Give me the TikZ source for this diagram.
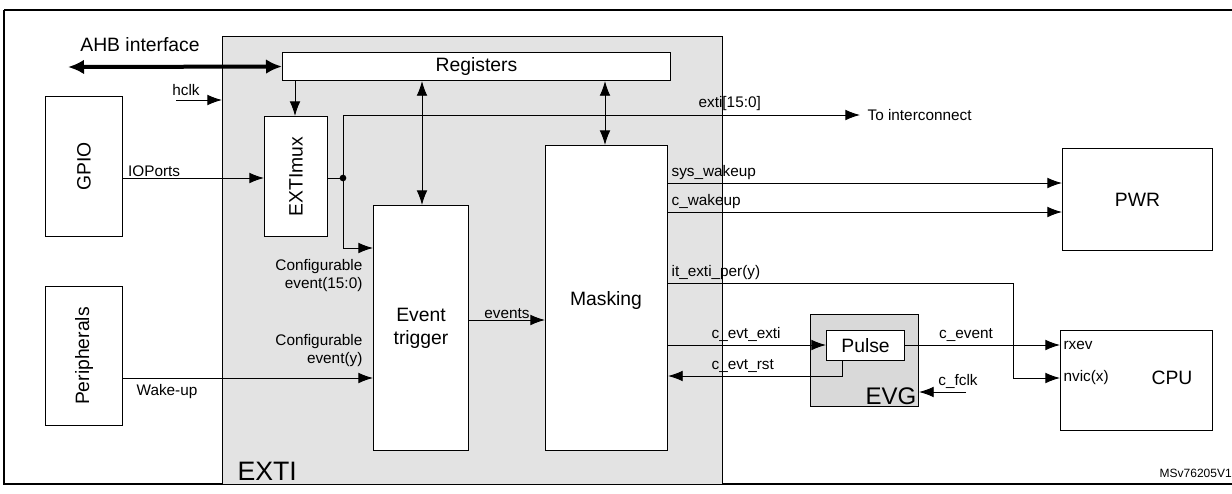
\documentclass[tikz,border=0pt]{standalone}
\usepackage{fontspec}
\setmainfont{Liberation Sans}
\usetikzlibrary{arrows.meta}
\begin{document}
\begin{tikzpicture}[x=0.75pt,y=-0.75pt,
  box/.style={draw,line width=0.8pt,fill=white},
  sig/.style={line width=0.7pt,-{Latex[length=11pt,width=8pt]}},
  lbl/.style={font=\fontsize{11.5}{13}\selectfont,inner sep=1pt},
  big/.style={font=\fontsize{14.5}{17}\selectfont,align=center}]
\useasboundingbox (0,0) rectangle (1232,493);
\draw[line width=1.2pt] (4,10) -- (1240,10) (4,10) -- (4,484) -- (1240,484);
\node[draw,line width=0.8pt,fill=gray!22,minimum width=500*0.75pt,minimum height=448*0.75pt,anchor=north west,inner sep=0] (exti) at (222,36) {};
\node[anchor=south west,font=\fontsize{20}{22}\selectfont,inner sep=1pt] at (236,482) {EXTI};
\node[box,minimum width=388*0.75pt,minimum height=28*0.75pt,anchor=north west,inner sep=0,big] (reg) at (282,52) {Registers};
\node[box,minimum width=77*0.75pt,minimum height=140*0.75pt,anchor=north west,inner sep=0] (gpio) at (45,96) {};
\node[big,rotate=90] at (gpio.center) {GPIO};
\node[box,minimum width=77*0.75pt,minimum height=139*0.75pt,anchor=north west,inner sep=0] (per) at (45,286) {};
\node[big,rotate=90] at (per.center) {Peripherals};
\node[box,minimum width=63*0.75pt,minimum height=120*0.75pt,anchor=north west,inner sep=0] (mux) at (264,116) {};
\node[big,rotate=90] at (mux.center) {EXTImux};
\node[box,minimum width=95*0.75pt,minimum height=245*0.75pt,anchor=north west,inner sep=0,big] (evt) at (373,205) {Event\\trigger};
\node[box,minimum width=122*0.75pt,minimum height=305*0.75pt,anchor=north west,inner sep=0] (mask) at (545,145) {};
\node[big] at (606,300) {Masking};
\node[box,minimum width=150*0.75pt,minimum height=102*0.75pt,anchor=north west,inner sep=0,big] (pwr) at (1062,148) {PWR};
\node[box,minimum width=152*0.75pt,minimum height=100*0.75pt,anchor=north west,inner sep=0] (cpu) at (1060,330) {};
\node[big] at (1172,378) {CPU};
\node[lbl,anchor=west] at (1062,345) {rxev};
\node[lbl,anchor=west] at (1062,378) {nvic(x)};
\node[draw,line width=0.8pt,fill=gray!30,minimum width=108*0.75pt,minimum height=92*0.75pt,anchor=north west,inner sep=0] (evg) at (810,314) {};
\node[anchor=south east,font=\fontsize{18}{20}\selectfont,inner sep=1pt] at (918,406) {EVG};
\node[box,minimum width=78*0.75pt,minimum height=30*0.75pt,anchor=north west,inner sep=0,big] (pulse) at (826,330) {Pulse};
% AHB
\draw[line width=3pt,{Latex[length=12pt,width=11pt]}-{Latex[length=12pt,width=11pt]}] (68,67) -- (reg.west);
\node[big,anchor=south] at (140,56) {AHB interface};
\node[lbl,anchor=south] at (186,97) {hclk};
\coordinate (h0) at (176,100);
\draw[sig] (h0) -- (exti.west|-h0);
% registers links
\draw[sig] (reg.south-|295,0) -- (mux.north-|295,0);
\draw[line width=0.7pt,{Latex[length=11pt,width=8pt]}-{Latex[length=11pt,width=8pt]}] (reg.south-|422,0) -- (evt.north-|422,0);
\draw[line width=0.7pt,{Latex[length=11pt,width=8pt]}-{Latex[length=11pt,width=8pt]}] (reg.south-|605,0) -- (mask.north-|605,0);
% IOPorts
\draw[sig] (gpio.east|-0,178) -- node[lbl,above,pos=0.22]{IOPorts} (mux.west|-0,178);
\coordinate (dot) at (343,178);
\draw[line width=0.7pt] (mux.east|-dot) -- (dot);
\fill (dot) circle (2.5pt);
\coordinate (ti) at (860,115);
\draw[sig] (dot) |- (ti);
\node[lbl,anchor=west] at (866,115) {To interconnect};
\node[lbl,anchor=south west] at (697,112) {exti[15:0]};
\draw[sig] (dot) |- (evt.west|-0,248);
\node[lbl,align=right,anchor=north east] at (364,258) {Configurable\\event(15:0)};
\node[lbl,align=right,anchor=north east] at (364,333) {Configurable\\event(y)};
\draw[sig] (per.east|-0,378) -- (evt.west|-0,378);
\node[lbl,anchor=north west] at (135,383) {Wake-up};
\draw[sig] (evt.east|-0,320) -- node[lbl,above]{events} (mask.west|-0,320);
% outputs
\draw[sig] (mask.east|-0,183) -- (pwr.west|-0,183);
\node[lbl,anchor=south west] at (670,181) {sys\_wakeup};
\draw[sig] (mask.east|-0,212) -- (pwr.west|-0,212);
\node[lbl,anchor=south west] at (670,210) {c\_wakeup};
\coordinate (b1) at (1013,283);
\draw[sig] (mask.east|-b1) -- (b1) |- (cpu.west|-0,378);
\node[lbl,anchor=south west] at (670,281) {it\_exti\_per(y)};
\draw[sig] (mask.east|-0,345) -- (pulse.west|-0,345);
\node[lbl,anchor=south west] at (710,343) {c\_evt\_exti};
\draw[sig] (pulse.south-|842,0) |- (mask.east|-0,376);
\node[lbl,anchor=south west] at (710,374) {c\_evt\_rst};
\draw[sig] (pulse.east|-0,345) -- (cpu.west|-0,345);
\node[lbl,anchor=south] at (966,343) {c\_event};
\coordinate (cf) at (966,392);
\draw[sig] (cf) -- (evg.east|-cf);
\node[lbl,anchor=south] at (958,390) {c\_fclk};
\node[font=\fontsize{9}{10}\selectfont,anchor=east,inner sep=0] at (1232,473) {MSv76205V1};
\end{tikzpicture}
\end{document}
